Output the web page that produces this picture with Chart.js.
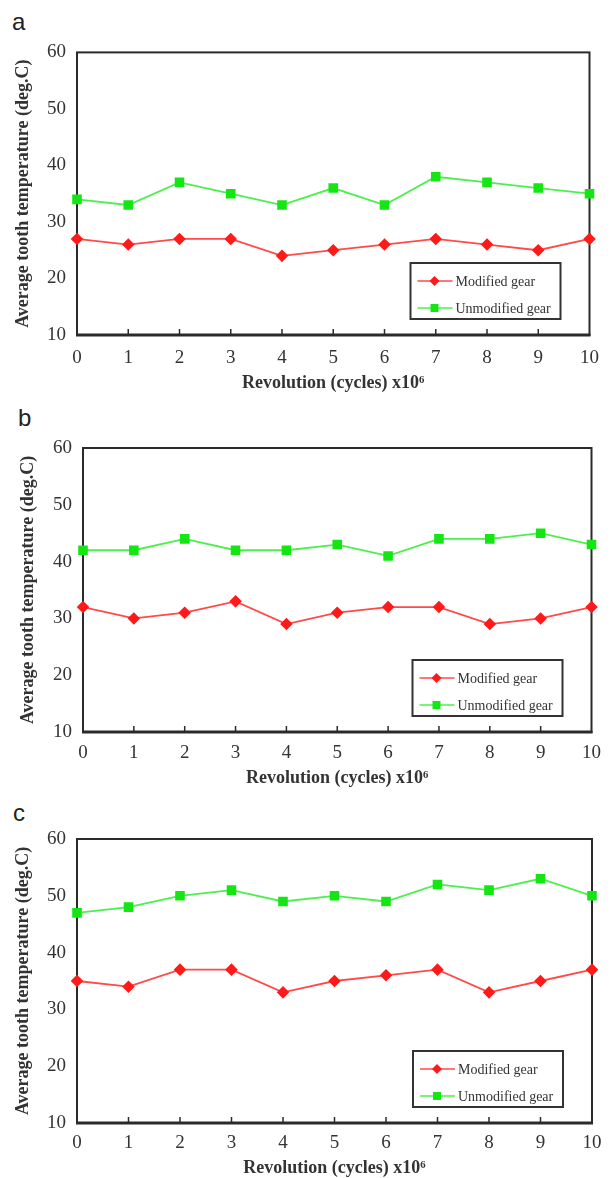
<!DOCTYPE html>
<html>
<head>
<meta charset="utf-8">
<script src="https://cdn.jsdelivr.net/npm/chart.js@4.4.1/dist/chart.umd.min.js"></script>
<style>
    body { margin: 0; background: #fff; width: 611px; height: 1178px; position: relative; overflow: hidden; }
    canvas { position: absolute; left: 0; }
    .tag { position: absolute; font-family: "Liberation Sans", Arial, sans-serif; font-size: 24px; color: #222; line-height: 1; }
</style>
</head>
<body>
<div class="tag" style="left:12px;top:10px;">a</div>
<div class="tag" style="left:18px;top:406px;">b</div>
<div class="tag" style="left:13px;top:801px;">c</div>
<canvas id="chart-a"></canvas>
<canvas id="chart-b"></canvas>
<canvas id="chart-c"></canvas>
<script>
// revolutions, x10^6 cycles
const revolutions = ['0', '1', '2', '3', '4', '5', '6', '7', '8', '9', '10'];

// average tooth temperature, deg.C
const modifiedA = [27, 26, 27, 27, 24, 25, 26, 27, 26, 25, 27];
const unmodifiedA = [34, 33, 37, 35, 33, 36, 33, 38, 37, 36, 35];
const modifiedB = [32, 30, 31, 33, 29, 31, 32, 32, 29, 30, 32];
const unmodifiedB = [42, 42, 44, 42, 42, 43, 41, 44, 44, 45, 43];
const modifiedC = [35, 34, 37, 37, 33, 35, 36, 37, 33, 35, 37];
const unmodifiedC = [47, 48, 50, 51, 49, 50, 49, 52, 51, 53, 50];

const seriesNames = ['Modified gear', 'Unmodified gear'];
const tempMin = 10, tempMax = 60, tempStep = 10;

const PAGE_W = 611;
const serif = '"Liberation Serif", "Times New Roman", serif';
const inkColor = '#333';

// where each panel sits on the page
const panels = [
    { id: 'chart-a', top: 30, bottom: 400, left: 77, right: 591, plotTop: 52, plotBottom: 335, tickPad: 13, xTitleY: 383, yTitleX: 23, modified: modifiedA, unmodified: unmodifiedA },
    { id: 'chart-b', top: 420, bottom: 800, left: 83, right: 598, plotTop: 448, plotBottom: 732, tickPad: 11, xTitleY: 778, yTitleX: 28, modified: modifiedB, unmodified: unmodifiedB },
    { id: 'chart-c', top: 810, bottom: 1178, left: 77, right: 592, plotTop: 839, plotBottom: 1123, tickPad: 10, xTitleY: 1168, yTitleX: 23, modified: modifiedC, unmodified: unmodifiedC }
];

const framePlugin = {
    id: 'frame',
    beforeDatasetsDraw(chart) {
        const { ctx, chartArea: a, scales: { x } } = chart;
        ctx.save();
        ctx.strokeStyle = '#2a2a2a';
        ctx.lineWidth = 2;
        ctx.strokeRect(a.left, a.top, a.right - a.left, a.bottom - a.top);
        ctx.lineWidth = 3;
        ctx.beginPath();
        ctx.moveTo(a.left - 1, a.bottom);
        ctx.lineTo(a.right + 1, a.bottom);
        ctx.stroke();
        // small inward ticks on the x axis
        ctx.lineWidth = 1.5;
        for (let i = 1; i < revolutions.length - 1; i++) {
            const px = x.getPixelForValue(i);
            ctx.beginPath();
            ctx.moveTo(px, a.bottom);
            ctx.lineTo(px, a.bottom - 6);
            ctx.stroke();
        }
        ctx.restore();
    },
    afterDatasetsDraw(chart) {
        const { ctx, chartArea: a } = chart;
        const w = 150, h = 56;
        const bx = a.right - 29 - w, by = a.bottom - 16 - h;
        ctx.save();
        ctx.fillStyle = '#fff';
        ctx.fillRect(bx, by, w, h);
        ctx.strokeStyle = '#333';
        ctx.lineWidth = 2;
        ctx.strokeRect(bx, by, w, h);
        chart.data.datasets.forEach((ds, i) => {
            const ly = by + 18 + i * 27;
            ctx.strokeStyle = ds.borderColor;
            ctx.lineWidth = 1.5;
            ctx.beginPath();
            ctx.moveTo(bx + 7, ly);
            ctx.lineTo(bx + 42, ly);
            ctx.stroke();
            ctx.fillStyle = ds.pointBackgroundColor;
            const cx = bx + 24;
            ctx.beginPath();
            if (ds.pointStyle === 'rectRot') {
                ctx.moveTo(cx, ly - 5);
                ctx.lineTo(cx + 5, ly);
                ctx.lineTo(cx, ly + 5);
                ctx.lineTo(cx - 5, ly);
                ctx.closePath();
            } else {
                ctx.rect(cx - 4, ly - 4, 8, 8);
            }
            ctx.fill();
            ctx.fillStyle = inkColor;
            ctx.font = '14px ' + serif;
            ctx.textBaseline = 'middle';
            ctx.fillText(ds.label, bx + 45, ly + 1);
        });
        ctx.restore();
    }
};

function renderPanel(p) {
    const canvas = document.getElementById(p.id);
    const h = p.bottom - p.top;
    canvas.width = PAGE_W;
    canvas.height = h;
    canvas.style.width = PAGE_W + 'px';
    canvas.style.height = h + 'px';
    canvas.style.top = p.top + 'px';
    const titleSize = 18;
    const titleFont = { family: serif, size: titleSize, weight: 'bold', lineHeight: 1.2 };
    const half = titleSize * 1.2 / 2;
    new Chart(canvas.getContext('2d'), {
        type: 'line',
        data: {
            labels: revolutions,
            datasets: [{
                label: seriesNames[0],
                data: p.modified,
                borderColor: '#ff4a4a',
                backgroundColor: '#ff1a1a',
                pointBackgroundColor: '#ff1a1a',
                pointBorderColor: '#ff1a1a',
                pointStyle: 'rectRot',
                pointRadius: 5,
                borderWidth: 1.8,
                tension: 0,
                clip: false
            }, {
                label: seriesNames[1],
                data: p.unmodified,
                borderColor: '#4cf04c',
                backgroundColor: '#14e614',
                pointBackgroundColor: '#14e614',
                pointBorderColor: '#14e614',
                pointStyle: 'rect',
                pointRadius: 5.5,
                borderWidth: 1.8,
                tension: 0,
                clip: false
            }]
        },
        options: {
            responsive: false,
            animation: false,
            layout: { padding: { top: p.plotTop - p.top, right: PAGE_W - p.right, left: 0, bottom: 0 } },
            plugins: { legend: { display: false }, tooltip: { enabled: false } },
            scales: {
                x: {
                    grid: { display: false, drawTicks: false },
                    border: { display: false },
                    ticks: { padding: p.tickPad - 1, color: inkColor, font: { family: serif, size: 19 }, maxRotation: 0, autoSkip: false },
                    title: { display: true, text: 'Revolution (cycles) x10⁶', color: inkColor, font: titleFont, padding: { top: 0, bottom: p.bottom - p.xTitleY - half } },
                    afterFit: s => { s.height = p.bottom - p.plotBottom; }
                },
                y: {
                    min: tempMin,
                    max: tempMax,
                    grid: { display: false, drawTicks: false },
                    border: { display: false },
                    ticks: { stepSize: tempStep, padding: 11, color: inkColor, font: { family: serif, size: 19 } },
                    title: { display: true, text: 'Average tooth temperature (deg.C)', color: inkColor, font: titleFont, padding: { top: p.yTitleX - half, bottom: 0 } },
                    afterFit: s => { s.width = p.left; }
                }
            }
        },
        plugins: [framePlugin]
    });
}

panels.forEach(renderPanel);
</script>
</body>
</html>
